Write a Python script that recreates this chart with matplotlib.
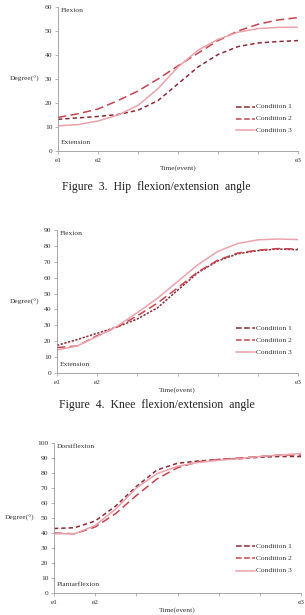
import matplotlib
matplotlib.use("Agg")
import matplotlib.pyplot as plt

# ---- data ----
t = [0, 0.5, 1, 1.5, 2, 2.5, 3, 3.5, 4, 4.5, 5, 5.5, 6]
xtick_pos = [0, 1, 2, 3, 4, 5, 6]
xtick_labels = ["e1", "e2", "", "", "", "", "e3"]
conditions = ["Condition 1", "Condition 2", "Condition 3"]

hip_c1 = [13.2, 13.8, 14.4, 15.2, 17.0, 21.0, 28.0, 35.0, 40.2, 43.5, 45.0, 45.6, 46.0]
hip_c2 = [14.0, 15.5, 17.5, 21.0, 25.0, 30.0, 35.5, 40.8, 46.0, 50.0, 52.8, 54.6, 55.6]
hip_c3 = [10.5, 11.0, 12.5, 15.0, 19.0, 26.0, 35.0, 42.0, 46.5, 49.5, 51.0, 51.5, 51.6]

knee_c1 = [17.4, 21.0, 25.0, 29.0, 34.0, 41.0, 52.0, 63.0, 70.5, 75.0, 77.0, 78.0, 77.6]
knee_c2 = [16.0, 17.0, 23.5, 29.0, 36.0, 44.0, 53.5, 63.5, 71.0, 75.5, 77.3, 78.3, 78.0]
knee_c3 = [14.5, 17.0, 23.0, 29.5, 38.0, 47.0, 57.5, 68.0, 76.5, 81.5, 83.8, 84.3, 84.0]

ankle_c1 = [43.0, 43.5, 48.0, 58.0, 71.0, 82.0, 86.5, 88.0, 89.0, 89.5, 90.5, 91.0, 91.0]
ankle_c2 = [40.0, 39.5, 44.0, 53.0, 65.0, 76.0, 83.5, 87.5, 89.0, 90.0, 91.0, 92.0, 92.0]
ankle_c3 = [39.5, 39.5, 45.0, 56.0, 70.0, 79.5, 84.5, 87.0, 88.5, 89.5, 91.0, 92.0, 93.0]

panels = [
    dict(series=[hip_c1, hip_c2, hip_c3], ymax=60, ystep=10,
         top_txt="Flexion", bot_txt="Extension",
         title="Figure  3.  Hip  flexion/extension  angle"),
    dict(series=[knee_c1, knee_c2, knee_c3], ymax=90, ystep=10,
         top_txt="Flexion", bot_txt="Extension",
         title="Figure  4.  Knee  flexion/extension  angle"),
    dict(series=[ankle_c1, ankle_c2, ankle_c3], ymax=100, ystep=10,
         top_txt="Dorsiflexion", bot_txt="Plantarflexion", title=None),
]

colors = ["#8a2a36", "#c4444e", "#eaa3ab"]
styles = [(0, (2.8, 2.0)), (0, (5.5, 2.8)), "-"]
styles_knee = [(0, (1.5, 1)), (0, (5.5, 2.8)), "-"]

plt.rcParams["font.family"] = ["Liberation Serif", "DejaVu Serif"]

fig = plt.figure(figsize=(3.05, 6.15), dpi=100)
W, H = 305.0, 615.0
boxes = [(58, 298, 7, 151), (57, 298, 230, 373), (54, 301, 443, 593)]
legend_y = [(107, 119, 130), (328, 340, 352), (546, 558, 571)]
title_y = [187, 405]
label_x = [25, 25, 20]
fs = 5.4

for i, (p, (l, r, tp, bt)) in enumerate(zip(panels, boxes)):
    ax = fig.add_axes([l / W, 1 - bt / H, (r - l) / W, (bt - tp) / H])
    st = styles_knee if i == 1 else styles
    lines = []
    for s, c, ls, name in zip(p["series"], colors, st, conditions):
        ln, = ax.plot(t, s, color=c, linestyle=ls, lw=1.1, label=name)
        lines.append(ln)
    ax.set_xlim(0, 6)
    ax.set_ylim(0, p["ymax"])
    ax.set_yticks(range(0, p["ymax"] + 1, p["ystep"]))
    ax.set_xticks(xtick_pos)
    ax.set_xticklabels(xtick_labels)
    for sp in ["top", "right"]:
        ax.spines[sp].set_visible(False)
    for sp in ["left", "bottom"]:
        ax.spines[sp].set_color("#999999")
        ax.spines[sp].set_linewidth(0.6)
    ax.tick_params(axis="both", labelsize=fs, length=2, width=0.5,
                   color="#999999", pad=2, labelcolor="#333333")
    ax.tick_params(axis="x", pad=3)
    ax.text(0.012, 0.995, p["top_txt"], transform=ax.transAxes, fontsize=fs,
            va="top", ha="left", color="#333333")
    ax.text(0.012, 0.04, p["bot_txt"], transform=ax.transAxes, fontsize=fs,
            va="bottom", ha="left", color="#333333")
    # y label (horizontal, at the left)
    fig.text(label_x[i] / W, 1 - ((tp + bt) / 2) / H, "Degree(\u00b0)",
             fontsize=fs, ha="center", va="center", color="#333333")
    # x label
    fig.text(((l + r) / 2) / W, 1 - (bt + 17) / H, "Time(event)",
             fontsize=fs, ha="center", va="center", color="#333333")
    # legend
    ly = legend_y[i]
    for ln, yy, name in zip(lines, ly, conditions):
        yf = 1 - yy / H
        fig.add_artist(plt.Line2D([236 / W, 255 / W], [yf, yf], color=ln.get_color(),
                                  linestyle=ln.get_linestyle(), lw=1.1))
        fig.text(256 / W, yf, name, fontsize=fs, ha="left", va="center",
                 color="#333333")
    if p["title"]:
        fig.text(((70 + 243) / 2) / W, 1 - title_y[i] / H, p["title"],
                 fontsize=8.5, ha="center", va="center", color="#222222")

fig.savefig("out.png", dpi=100)
